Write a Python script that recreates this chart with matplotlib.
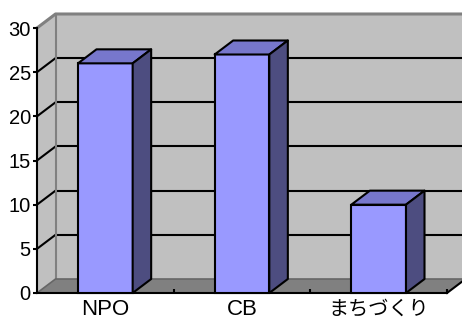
import matplotlib.pyplot as plt
from matplotlib.patches import Polygon, Rectangle

# data
categories = ["NPO", "CB", "まちづくり"]
values = [26, 27, 10]
y_ticks = [0, 5, 10, 15, 20, 25, 30]
y_max = 30

plt.rcParams['font.family'] = ['Liberation Sans', 'Noto Sans CJK JP']

fig = plt.figure(figsize=(4.62, 3.2), dpi=100)
# front plane of the 3d box
ax = fig.add_axes([37 / 462, 27 / 320, 410 / 462, 265 / 320])
ax.set_xlim(0, len(categories))
ax.set_ylim(0, y_max)
ax.patch.set_visible(False)

# depth of the box in pixels -> data units
depth_px_x, depth_px_y = 18.5, 14
dx = depth_px_x / (ax.bbox.width / len(categories))
dy = depth_px_y / (ax.bbox.height / y_max)

wall = '#C0C0C0'
floor = '#808080'
edge_gray = '#808080'
n = len(categories)

# back wall
ax.add_patch(Rectangle((dx, dy), n, y_max, facecolor=wall, edgecolor='none',
                       zorder=0, clip_on=False))
# left wall
ax.add_patch(Polygon([(0, 0), (0, y_max), (dx, y_max + dy), (dx, dy)],
                     closed=True, facecolor=wall, edgecolor='none',
                     zorder=0, clip_on=False))
# floor
ax.add_patch(Polygon([(0, 0), (n, 0), (n + dx, dy), (dx, dy)], closed=True,
                     facecolor=floor, edgecolor='none', zorder=0.5, clip_on=False))

# grid lines on back and side wall
for v in y_ticks[1:-1]:
    ax.plot([dx, n + dx], [v + dy, v + dy], color='black', lw=1.5,
            zorder=1, clip_on=False, solid_capstyle='butt')
    ax.plot([0, dx], [v, v + dy], color='black', lw=1.5, zorder=1, clip_on=False)

# wall outlines
ax.plot([0, dx, n + dx], [y_max, y_max + dy, y_max + dy], color=edge_gray,
        lw=2.2, zorder=1, clip_on=False)
ax.plot([dx, dx], [dy, y_max + dy], color=edge_gray, lw=1.5, zorder=1, clip_on=False)
ax.plot([0, dx, n + dx], [0, dy, dy], color='#666666', lw=1.2, zorder=1, clip_on=False)
# right floor edge
ax.plot([n, n + dx], [0, dy], color='black', lw=1.5, zorder=2, clip_on=False)

# bars
w = 0.4
x = [i + 0.5 for i in range(n)]
ax.bar(x, values, width=w, color='#9999FF', edgecolor='black', lw=1.5,
       zorder=4, clip_on=False)
for xc, v in zip(x, values):
    x0 = xc - w / 2
    x1 = xc + w / 2
    ax.add_patch(Polygon([(x0, v), (x1, v), (x1 + dx, v + dy), (x0 + dx, v + dy)],
                         closed=True, facecolor='#7777CC', edgecolor='black',
                         lw=1.5, zorder=4, clip_on=False, joinstyle='round'))
    ax.add_patch(Polygon([(x1, 0), (x1 + dx, dy), (x1 + dx, v + dy), (x1, v)],
                         closed=True, facecolor='#4D4D80', edgecolor='black',
                         lw=1.5, zorder=4, clip_on=False, joinstyle='round'))

# axes
for s in ['top', 'right']:
    ax.spines[s].set_visible(False)
for s in ['left', 'bottom']:
    ax.spines[s].set_color('black')
    ax.spines[s].set_linewidth(1.5)
    ax.spines[s].set_zorder(3)

ax.set_yticks(y_ticks)
ax.tick_params(axis='y', length=3, width=1.5, pad=1.5, labelsize=14.5)
ax.set_xticks(x, categories)
ax.set_xticks(range(1, n + 1), minor=True)
ax.tick_params(axis='x', which='major', length=0, pad=15.8, labelsize=16)
ax.tick_params(axis='x', which='minor', direction='in', length=3, width=1.5)
# labels sit on a common baseline; the japanese one is a bit smaller
for lab in ax.get_xticklabels():
    lab.set_verticalalignment('baseline')
ax.get_xticklabels()[2].set_fontsize(14.5)

fig.savefig('out.png', dpi=100)
